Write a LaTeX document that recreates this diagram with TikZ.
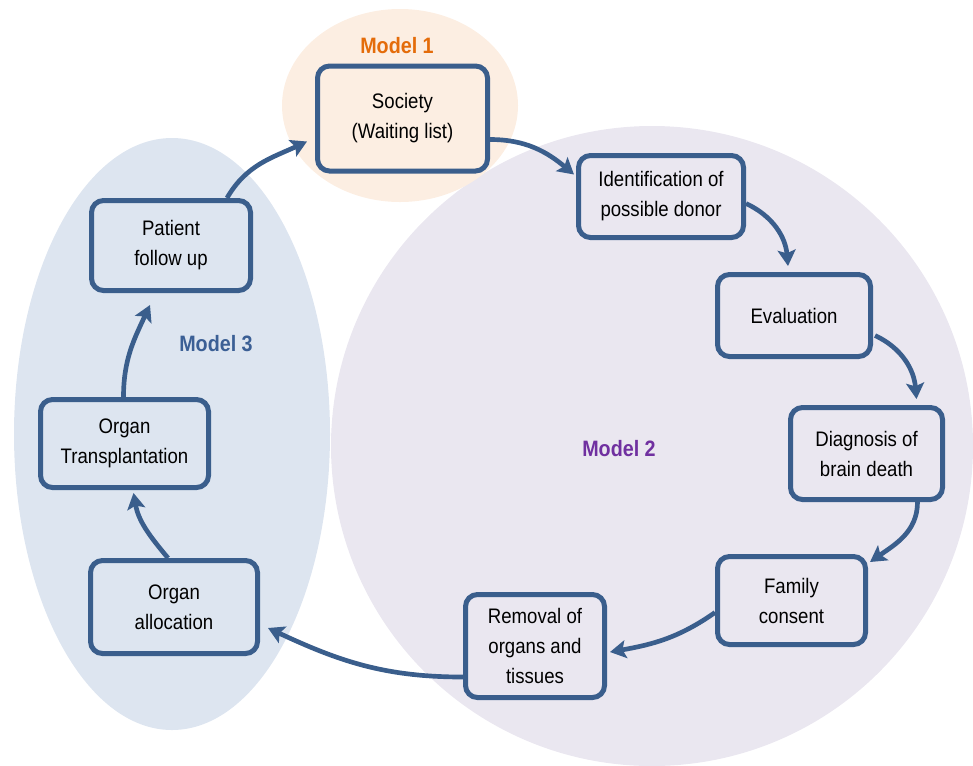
\documentclass[tikz,border=0pt]{standalone}
\usepackage{fontspec}
\setmainfont[FakeStretch=0.886]{Liberation Sans}
\usetikzlibrary{arrows.meta,calc}
\definecolor{boxc}{HTML}{3A5E8C}
\definecolor{lavfill}{HTML}{EAE7F0}
\definecolor{bluefill}{HTML}{DDE5F0}
\definecolor{orfill}{HTML}{FCEEE2}
\definecolor{mone}{HTML}{E46C0A}
\definecolor{mtwo}{HTML}{7030A0}
\definecolor{mthree}{HTML}{3B5F95}
\begin{document}
\begin{tikzpicture}[x=0.75pt,y=-0.75pt,
  stepbox/.style={draw=boxc,line width=3.75pt,rounded corners=9pt,inner sep=0pt,align=center,
    font=\fontsize{15.75}{22.5}\selectfont},
  sz/.style 2 args={minimum width=#1*0.75pt,minimum height=#2*0.75pt},
  arr/.style={draw=boxc,line width=3.5pt,-{Stealth[length=12pt,width=13.5pt,inset=2.5pt]}},
  modellab/.style={font=\bfseries\fontsize{16.7}{20}\selectfont}]
\useasboundingbox (0,0) rectangle (973,765);
% background regions
\fill[lavfill] (652,446) ellipse [x radius=321,y radius=320];
\fill[bluefill] (172,434) ellipse [x radius=158,y radius=296];
\fill[orfill] (400,105.5) ellipse [x radius=118,y radius=96.5];
% labels
\node[modellab,text=mone] (m1) at (397,46) {Model 1};
\node[modellab,text=mthree] (m3) at (216,344) {Model 3};
\node[modellab,text=mtwo] (m2) at (619,449) {Model 2};
% boxes
\node[stepbox,sz={170}{105}] (soc) at (402.5,118.5) {Society\\(Waiting list)};
\node[stepbox,sz={165}{82}] (ident) at (661,196.5) {Identification of\\possible donor};
\node[stepbox,sz={153}{82}] (eval) at (794,315.5) {Evaluation};
\node[stepbox,sz={152}{92}] (diag) at (866.5,453.5) {Diagnosis of\\brain death};
\node[stepbox,sz={148}{88}] (fam) at (791.5,600.5) {Family\\consent};
\node[stepbox,sz={139}{103}] (rem) at (535,646) {Removal of\\organs and\\tissues};
\node[stepbox,sz={167}{93}] (alloc) at (174,607) {Organ\\allocation};
\node[stepbox,sz={168}{88}] (trans) at (124.5,443.5) {Organ\\Transplantation};
\node[stepbox,sz={159}{90}] (pat) at (171,245.5) {Patient\\follow up};
% connectors
\draw[arr] ($(soc.east)+(0,21)$) to[out=0,in=140] ($(ident.west)+(-2,-22)$);
\draw[arr] ($(ident.east)+(0,7)$) to[out=-25,in=95] ($(eval.north)+(-6,-6)$);
\draw[arr] ($(eval.east)+(2,20)$) to[out=-25,in=95] ($(diag.north)+(50,-6)$);
\draw[arr] ($(diag.south)+(51,0)$) to[out=-90,in=35] ($(fam.north east)+(2,8)$);
\draw[arr] ($(fam.west)+(0,12)$) to[out=215,in=10] ($(rem.east)+(3,6)$);
\draw[arr] ($(rem.west)+(0,31)$) to[out=180,in=-25] ($(alloc.east)+(8,21)$);
\draw[arr] ($(alloc.north)+(-6,0)$) to[out=130,in=-80] ($(trans.south)+(9,3)$);
\draw[arr] ($(trans.north)+(-1,0)$) to[out=90,in=-115] ($(pat.south)+(-21,12)$);
\draw[arr] ($(pat.north)+(56,0)$) to[out=60,in=205] ($(soc.west)+(-8,23)$);
\end{tikzpicture}
\end{document}
